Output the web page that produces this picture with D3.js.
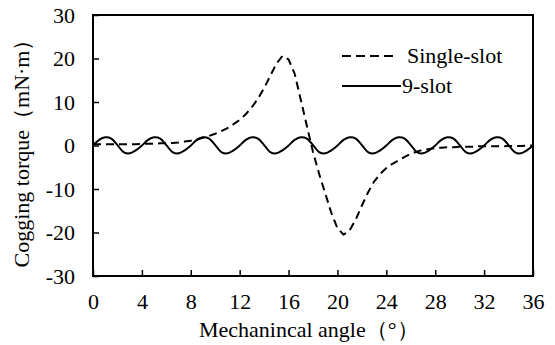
<!DOCTYPE html>
<html>
<head>
  <meta charset="UTF-8">
  <title>Cogging torque</title>
</head>
<body style="margin:0">
  <svg id="svg" width="555" height="345"></svg>

  <script src="https://d3js.org/d3.v7.min.js"></script>
  <script>
    // mechanical angle, every 0.5 degree from 0 to 36
    const angles = d3.range(0, 36.01, 0.5)

    // single-slot cogging torque (mN·m)
    const singleSlot = [
      0.3, 0.3, 0.3, 0.3, 0.3, 0.3, 0.3, 0.3, 0.35, 0.4,      // 0 - 4.5
      0.4, 0.5, 0.5, 0.6, 0.7, 0.9, 1.1, 1.4, 1.8, 2.2,       // 5 - 9.5
      2.7, 3.3, 4.0, 4.9, 5.9, 7.2, 8.8, 10.8, 13.2, 16.0,    // 10 - 14.5
      18.8, 20.6, 19.8, 16.5, 10.5, 4.5, -1.5, -6.5, -11, -15.5, // 15 - 19.5
      -19, -20.5, -19.5, -17, -13.8, -10.8, -8.3, -6.5, -5.2, -4.2, // 20 - 24.5
      -3.4, -2.6, -1.9, -1.4, -1.0, -0.8, -0.6, -0.5, -0.4, -0.4,  // 25 - 29.5
      -0.3, -0.3, -0.3, -0.2, -0.2, -0.2, -0.2, -0.2, -0.1, -0.1,  // 30 - 34.5
      -0.1, 0, 0                                                  // 35 - 36
    ]

    // 9-slot cogging torque (mN·m)
    const nineSlot = [
      0, 1.3, 1.9, 1.6, 0.1, -1.5, -1.8, -1.1,      // 0 - 3.5
      0, 1.3, 1.9, 1.6, 0.1, -1.5, -1.8, -1.1,      // 4 - 7.5
      0, 1.3, 1.9, 1.6, 0.1, -1.5, -1.8, -1.1,      // 8 - 11.5
      0, 1.3, 1.9, 1.6, 0.1, -1.5, -1.8, -1.1,      // 12 - 15.5
      0, 1.3, 1.9, 1.6, 0.1, -1.5, -1.8, -1.1,      // 16 - 19.5
      0, 1.3, 1.9, 1.6, 0.1, -1.5, -1.8, -1.1,      // 20 - 23.5
      0, 1.3, 1.9, 1.6, 0.1, -1.5, -1.8, -1.1,      // 24 - 27.5
      0, 1.3, 1.9, 1.6, 0.1, -1.5, -1.8, -1.1,      // 28 - 31.5
      0, 1.3, 1.9, 1.6, 0.1, -1.5, -1.8, -1.1,      // 32 - 35.5
      0                                             // 36
    ]

    const xTicks = [0, 4, 8, 12, 16, 20, 24, 28, 32, 36]
    const yTicks = [-30, -20, -10, 0, 10, 20, 30]

    const legendNames = ['Single-slot', '9-slot']

    // CONSTANTS
    const margin = { top: 15, right: 22, bottom: 69, left: 93 }
    const width = 555 - margin.left - margin.right
    const height = 345 - margin.top - margin.bottom

    const svg = d3.select('#svg')
    const g = svg.append('g')
      .attr('transform', `translate(${margin.left}, ${margin.top})`)

    // all text in serif
    const serif = sel => sel.style('font-family', '"Liberation Serif"').style('font-size', '22px')

    // ------ SCALES ------------------------
    const xscale = d3.scaleLinear().domain([0, 36]).range([0, width])
    const yscale = d3.scaleLinear().domain([-30, 30]).range([height, 0])

    // ------ AXES ------------------------
    const bottomAxis = d3.axisBottom(xscale)
      .tickValues(xTicks)
      .tickFormat(d => String(d))
      .tickSize(-6)
      .tickPadding(17)
    const xAxisG = g.append('g')
      .attr('transform', `translate(0, ${height})`)
      .call(bottomAxis)

    const leftAxis = d3.axisLeft(yscale)
      .tickValues(yTicks)
      .tickFormat(d => String(d))  // plain hyphen for negatives
      .tickSize(-6)
      .tickPadding(18)
    const yAxisG = g.append('g').call(leftAxis)

    ;[xAxisG, yAxisG].forEach(a => {
      a.select('.domain').remove()
      a.selectAll('line').attr('stroke', '#000').attr('stroke-width', 1.5)
      a.selectAll('text').attr('fill', '#000').call(serif)
    })

    // plot frame
    g.append('rect')
      .attr('x', 0)
      .attr('y', 0)
      .attr('width', width)
      .attr('height', height)
      .attr('fill', 'none')
      .attr('stroke', '#000')
      .attr('stroke-width', 2)

    // ------ LINES ------------------------
    const singleData = angles.map((a, i) => ({ x: a, y: singleSlot[i] }))
    const nineData = angles.map((a, i) => ({ x: a, y: nineSlot[i] }))

    const straight = d3.line()
      .x(d => xscale(d.x))
      .y(d => yscale(d.y))
    const smooth = d3.line()
      .curve(d3.curveCatmullRom)
      .x(d => xscale(d.x))
      .y(d => yscale(d.y))

    g.append('path')
      .datum(nineData)
      .attr('d', smooth)
      .attr('fill', 'none')
      .attr('stroke', '#000')
      .attr('stroke-width', 2)

    g.append('path')
      .datum(singleData)
      .attr('d', straight)
      .attr('fill', 'none')
      .attr('stroke', '#000')
      .attr('stroke-width', 2)
      .attr('stroke-dasharray', '8,5')

    // ------ LEGEND ------------------------
    const legend = svg.append('g')
    const legendRows = [
      { name: legendNames[0], dash: '9,5', y: 56 },
      { name: legendNames[1], dash: null, y: 86 }
    ]
    legendRows.forEach((r, i) => {
      legend.append('line')
        .attr('x1', 342)
        .attr('x2', i === 0 ? 397 : 401)
        .attr('y1', r.y)
        .attr('y2', r.y)
        .attr('stroke', '#000')
        .attr('stroke-width', 2)
        .attr('stroke-dasharray', r.dash)
      legend.append('text')
        .attr('x', i === 0 ? 407 : 402)
        .attr('y', r.y + 7)
        .call(serif)
        .text(r.name)
    })

    // ------ AXIS LABELS ------------------------
    svg.append('text')
      .attr('x', 199)
      .attr('y', 337)
      .call(serif)
      .text('Mechanincal angle（°）')

    svg.append('text')
      .attr('transform', 'translate(29, 148) rotate(-90)')
      .attr('text-anchor', 'middle')
      .call(serif)
      .text('Cogging torque（mN·m）')
  </script>
</body>
</html>
